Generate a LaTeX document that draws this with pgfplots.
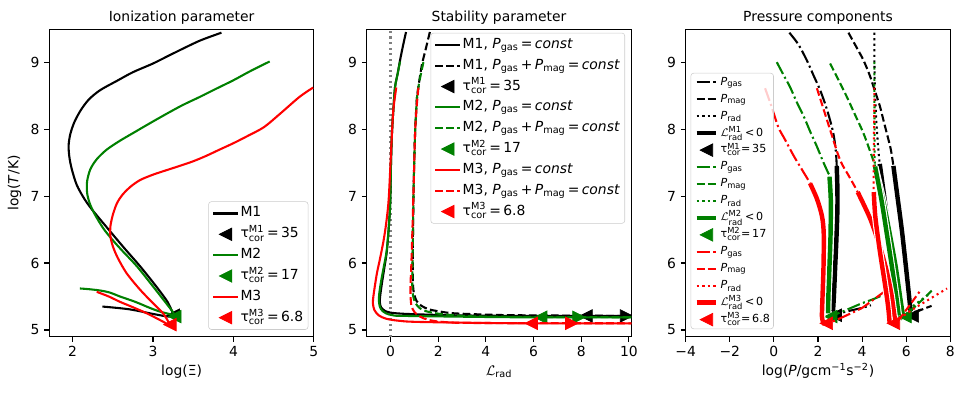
\documentclass[border=0pt]{standalone}
\usepackage{amsmath}
\usepackage{fontspec}
\setmainfont{DejaVu Sans}
\usepackage{pgfplots}
\pgfplotsset{compat=1.18}

\definecolor{mgreen}{HTML}{008000}
\definecolor{mred}{HTML}{FF0000}

\pgfdeclareplotmark{ltri}{%
  \pgfpathmoveto{\pgfqpoint{-\pgfplotmarksize}{0pt}}%
  \pgfpathlineto{\pgfqpoint{\pgfplotmarksize}{-\pgfplotmarksize}}%
  \pgfpathlineto{\pgfqpoint{\pgfplotmarksize}{\pgfplotmarksize}}%
  \pgfpathclose\pgfusepathqfillstroke}
\pgfdeclareplotmark{rtri}{%
  \pgfpathmoveto{\pgfqpoint{\pgfplotmarksize}{0pt}}%
  \pgfpathlineto{\pgfqpoint{-\pgfplotmarksize}{-\pgfplotmarksize}}%
  \pgfpathlineto{\pgfqpoint{-\pgfplotmarksize}{\pgfplotmarksize}}%
  \pgfpathclose\pgfusepathqfillstroke}

\newcommand{\tc}[2]{τ$^{\text{#1}}_{\text{cor}}$\,=\,#2}
\newcommand{\tcs}[2]{τ$^{\text{#1}}_{\text{cor}}$=\,#2}
\newcommand{\Pp}[1]{\textit{P}\textsubscript{#1}}

\tikzset{
  mdash/.style={line width=1.5pt, dash pattern=on 5.55pt off 2.4pt},
  mdashdot/.style={line width=1.5pt, dash pattern=on 9.6pt off 2.4pt on 1.5pt off 2.4pt},
  mdot/.style={line width=1.5pt, dash pattern=on 1.5pt off 2.475pt},
  mthick/.style={line width=3.2pt, solid, preaction={draw=white, line width=4.8pt, solid}},
}

\pgfplotsset{
  panel/.style={
    scale only axis, width=190.5pt, height=221.3pt, anchor=south west,
    ymin=4.9, ymax=9.49, ytick={5,6,7,8,9},
    tick align=outside, tick pos=left, major tick length=3.5pt,
    axis line style={line width=0.8pt},
    every tick/.style={black, line width=0.8pt},
    /pgf/number format/assume math mode=true,
    tick label style={font=\fontsize{10}{12}\selectfont},
    label style={font=\fontsize{10}{12}\selectfont},
    title style={font=\fontsize{10}{12}\selectfont, at={(0.5,1)}, anchor=base, yshift=-0.5pt},
    xlabel style={at={(axis description cs:0.5,-0.125)}, anchor=base},
    clip marker paths=true,
    legend cell align=left,
    legend style={draw=black!20, rounded corners=2pt, fill=white, fill opacity=0.8,
      draw opacity=1, text opacity=1,
      font=\fontsize{10}{12}\selectfont,
      nodes={inner sep=1pt, text height=7.5pt, text depth=2.5pt}, row sep=3pt, inner sep=2.5pt},
    legend image code/.code={\draw[mark repeat=2,mark phase=2,##1] plot coordinates {(0pt,0pt) (9pt,0pt) (18pt,0pt)};},
  },
  tri/.style={only marks, mark=ltri, mark size=4.5pt, mark options={solid, line width=0.5pt, fill opacity=1, draw opacity=1}},
  trir/.style={only marks, mark=rtri, mark size=4.5pt, mark options={solid, line width=0.5pt, fill opacity=1, draw opacity=1}},
  sm/.style={smooth, tension=0.5},
}

\begin{document}
\begin{tikzpicture}
\useasboundingbox (0,0) rectangle (694.8pt,283.68pt);

% ---------------- Panel 1 ----------------
\begin{axis}[panel, at={(35.5pt,41.26pt)},
  xmin=1.71, xmax=5, xtick={2,3,4,5},
  title={Ionization parameter},
  xlabel={log(Ξ)}, ylabel={log(\textit{T}/K)},
  ylabel style={at={(axis description cs:-0.117,0.5)}, anchor=base},
  legend style={at={(1,0)}, anchor=south east, xshift=-4pt, yshift=5pt}]
\addplot[black, line width=1.5pt, sm] coordinates {
(3.85,9.44)(3.60,9.33)(3.42,9.23)(3.20,9.10)(3.00,8.98)(2.75,8.85)(2.55,8.72)(2.34,8.58)
(2.20,8.44)(2.10,8.28)(2.02,8.10)(1.97,7.92)(1.95,7.75)(1.96,7.58)(1.99,7.40)(2.05,7.17)
(2.14,6.97)(2.24,6.80)(2.42,6.54)(2.63,6.24)(2.84,5.95)(3.04,5.65)(3.18,5.42)(3.25,5.24)};
\addlegendentry{M1}
\addplot[black, line width=1.5pt, sm, forget plot] coordinates {
(3.25,5.24)(3.20,5.20)(3.00,5.24)(2.70,5.31)(2.37,5.35)};
\addplot[black, tri] coordinates {(3.25,5.22)};
\addlegendentry{\tc{M1}{35}}
\addplot[mgreen, line width=1.5pt, sm] coordinates {
(4.45,9.01)(4.20,8.86)(4.00,8.73)(3.78,8.60)(3.58,8.48)(3.37,8.36)(3.17,8.23)(2.95,8.08)
(2.75,7.94)(2.58,7.82)(2.42,7.69)(2.30,7.55)(2.22,7.40)(2.18,7.22)(2.18,7.05)(2.21,6.90)
(2.27,6.74)(2.38,6.52)(2.50,6.34)(2.62,6.18)(2.80,5.95)(3.00,5.65)(3.15,5.42)(3.24,5.28)(3.27,5.22)};
\addlegendentry{M2}
\addplot[mgreen, line width=1.5pt, sm, forget plot] coordinates {
(3.27,5.22)(3.10,5.27)(2.96,5.33)(2.78,5.42)(2.59,5.50)(2.46,5.56)(2.34,5.59)(2.20,5.61)(2.09,5.62)};
\addplot[mgreen, tri] coordinates {(3.27,5.20)};
\addlegendentry{\tc{M2}{17}}
\addplot[mred, line width=1.5pt, sm] coordinates {
(4.99,8.62)(4.82,8.48)(4.58,8.23)(4.38,8.03)(4.18,7.90)(4.00,7.79)(3.82,7.69)(3.66,7.60)
(3.50,7.52)(3.33,7.45)(3.15,7.38)(3.00,7.32)(2.84,7.24)(2.72,7.14)(2.62,7.02)(2.55,6.89)
(2.50,6.72)(2.47,6.55)(2.47,6.40)(2.50,6.25)(2.56,6.08)(2.67,5.85)(2.84,5.60)(3.00,5.40)
(3.13,5.24)(3.22,5.06)};
\addlegendentry{M3}
\addplot[mred, line width=1.5pt, sm, forget plot] coordinates {
(3.22,5.06)(3.10,5.14)(2.92,5.25)(2.75,5.34)(2.59,5.42)(2.45,5.50)(2.30,5.57)};
\addplot[mred, tri] coordinates {(3.21,5.08)};
\addlegendentry{\tc{M3}{6.8}}
\end{axis}

% ---------------- Panel 2 ----------------
\begin{axis}[panel, at={(264.02pt,41.26pt)},
  xmin=-1, xmax=10.1, xtick={0,2,4,6,8,10},
  title={Stability parameter},
  xlabel={$\mathcal{L}$\textsubscript{rad}},
  legend style={at={(1,1)}, anchor=north east, xshift=-4.5pt, yshift=-2.5pt}]
\addplot[gray, line width=1.5pt, dash pattern=on 1.5pt off 2.475pt, forget plot] coordinates {(0,4.9)(0,9.49)};
% M1
\addplot[black, line width=1.5pt, sm] coordinates {
(0.65,9.45)(0.52,9.24)(0.40,9.03)(0.30,8.83)(0.19,8.63)(0.12,8.30)(0.06,7.94)(0.02,7.50)
(-0.01,6.94)(-0.06,6.60)(-0.15,6.19)(-0.25,5.95)(-0.36,5.70)(-0.43,5.52)(-0.45,5.42)
(-0.40,5.34)(-0.25,5.29)(-0.01,5.26)(0.68,5.24)(2.63,5.22)(5.40,5.21)(10.2,5.21)};
\addlegendentry{M1, \Pp{gas}\,=\,\textit{const}}
\addplot[black, mdash, sm] coordinates {
(1.65,9.45)(1.48,9.20)(1.31,8.95)(1.17,8.63)(1.10,8.43)(1.03,7.94)(0.98,7.30)(0.96,6.94)
(0.94,6.40)(0.93,5.95)(0.94,5.70)(0.98,5.55)(1.10,5.43)(1.30,5.36)(1.60,5.31)(2.00,5.28)
(2.63,5.25)(4.00,5.23)(5.40,5.22)(10.2,5.21)};
\addlegendentry{M1, \Pp{gas}\,+\,\Pp{mag}\,=\,\textit{const}}
\addplot[black, tri] coordinates {(8.2,5.21)};
\addlegendentry{\tc{M1}{35}}
\addplot[black, trir, forget plot] coordinates {(9.9,5.21)};
% M2
\addplot[mgreen, line width=1.5pt, sm] coordinates {
(0.40,9.01)(0.30,8.83)(0.19,8.63)(0.12,8.30)(0.06,7.94)(0.02,7.50)(-0.01,6.94)(-0.06,6.60)
(-0.16,6.19)(-0.28,5.95)(-0.40,5.72)(-0.48,5.52)(-0.48,5.40)(-0.40,5.31)(-0.20,5.25)
(0.10,5.22)(0.68,5.21)(5.40,5.19)(10.2,5.19)};
\addlegendentry{M2, \Pp{gas}\,=\,\textit{const}}
\addplot[mgreen, mdash, sm] coordinates {
(1.38,9.00)(1.26,8.80)(1.17,8.63)(1.10,8.43)(1.03,7.94)(0.98,7.30)(0.96,6.94)(0.94,6.40)
(0.92,5.95)(0.91,5.70)(0.94,5.52)(1.05,5.40)(1.25,5.32)(1.60,5.27)(2.35,5.23)(4.00,5.20)(10.2,5.19)};
\addlegendentry{M2, \Pp{gas}\,+\,\Pp{mag}\,=\,\textit{const}}
\addplot[mgreen, tri] coordinates {(6.3,5.19)};
\addlegendentry{\tc{M2}{17}}
\addplot[mgreen, trir, forget plot] coordinates {(7.9,5.19)};
% M3
\addplot[mred, line width=1.5pt, sm] coordinates {
(0.24,8.62)(0.12,8.30)(0.06,7.94)(0.00,7.50)(-0.08,6.94)(-0.18,6.60)(-0.29,6.34)(-0.45,6.05)
(-0.57,5.85)(-0.66,5.65)(-0.72,5.50)(-0.74,5.40)(-0.68,5.30)(-0.50,5.22)(-0.20,5.17)
(0.30,5.14)(1.24,5.12)(5.40,5.10)(10.2,5.10)};
\addlegendentry{M3, \Pp{gas}\,=\,\textit{const}}
\addplot[mred, mdash, sm] coordinates {
(1.17,8.62)(1.10,8.35)(1.03,7.94)(0.98,7.30)(0.95,6.90)(0.91,6.40)(0.87,5.95)(0.84,5.70)
(0.84,5.50)(0.88,5.36)(1.00,5.27)(1.24,5.20)(1.60,5.15)(2.20,5.12)(3.50,5.105)(10.2,5.10)};
\addlegendentry{M3, \Pp{gas}\,+\,\Pp{mag}\,=\,\textit{const}}
\addplot[mred, tri] coordinates {(5.9,5.10)};
\addlegendentry{\tc{M3}{6.8}}
\addplot[mred, trir, forget plot] coordinates {(7.6,5.10)};
\end{axis}

% ---------------- Panel 3 ----------------
\begin{axis}[panel, at={(493.7pt,41.26pt)},
  xmin=-4, xmax=8, xtick={-4,-2,0,2,4,6,8}, xticklabels={−4,−2,0,2,4,6,8},
  title={Pressure components},
  xlabel={log(\textit{P}/gcm\textsuperscript{−1}s\textsuperscript{−2})},
  legend style={at={(0,0)}, anchor=south west, xshift=3.5pt, yshift=5.5pt,
    font=\fontsize{8}{10}\selectfont,
    nodes={inner sep=0.8pt, text height=6pt, text depth=2pt}, row sep=2.6pt, inner sep=1.8pt},
  legend image code/.code={\draw[mark repeat=2,mark phase=2,#1] plot coordinates {(0pt,0pt) (7pt,0pt) (14pt,0pt)};}]
% ===== M1 =====
\addplot[black, mdashdot, sm] coordinates {
(0.70,9.44)(1.10,9.27)(1.49,9.03)(1.80,8.80)(2.10,8.58)(2.35,8.35)(2.55,8.13)(2.70,7.93)(2.80,7.70)(2.85,7.45)
(2.88,7.10)(2.88,6.80)(2.84,6.40)(2.78,5.95)(2.72,5.50)(2.68,5.28)
(2.68,5.22)(3.10,5.26)(3.60,5.30)(4.00,5.33)(4.40,5.37)};
\addlegendentry{\Pp{gas}}
\addplot[black, mdash, sm] coordinates {
(3.38,9.44)(3.75,9.22)(4.06,9.03)(4.35,8.80)(4.55,8.60)(4.80,8.35)(4.97,8.13)(5.15,7.90)(5.30,7.70)(5.42,7.45)
(5.60,7.00)(5.80,6.50)(5.97,6.00)(6.10,5.60)(6.20,5.28)
(6.22,5.22)(6.60,5.29)(7.15,5.36)};
\addlegendentry{\Pp{mag}}
\addplot[black, mdot, sm] coordinates {
(4.56,9.44)(4.56,9.00)(4.58,8.60)(4.63,8.20)(4.70,7.85)(4.80,7.48)
(5.00,7.00)(5.20,6.50)(5.42,6.00)(5.62,5.55)(5.82,5.25)
(5.85,5.20)(6.30,5.26)(6.80,5.32)};
\addlegendentry{\Pp{rad}}
\addplot[black, mthick, sm] coordinates {(2.85,7.45)(2.88,7.10)(2.88,6.80)(2.84,6.40)(2.78,5.95)(2.72,5.50)(2.68,5.28)};
\addlegendentry{$\mathcal{L}^{\text{M1}}_{\text{rad}}$\,<\,0}
\addplot[black, mthick, sm, forget plot] coordinates {(5.42,7.45)(5.60,7.00)(5.80,6.50)(5.97,6.00)(6.10,5.60)(6.20,5.28)};
\addplot[black, mthick, sm, forget plot] coordinates {(4.80,7.48)(5.00,7.00)(5.20,6.50)(5.42,6.00)(5.62,5.55)(5.82,5.25)};
\addplot[black, tri] coordinates {(2.78,5.22)(6.28,5.21)};
\addlegendentry{\tcs{M1}{35}}
% ===== M2 =====
\addplot[mgreen, mdashdot, sm] coordinates {
(0.13,9.00)(0.45,8.80)(0.73,8.63)(1.04,8.40)(1.34,8.20)(1.65,7.96)(1.95,7.74)(2.25,7.50)(2.47,7.34)(2.52,7.29)
(2.58,6.94)(2.57,6.44)(2.52,5.95)(2.47,5.50)(2.46,5.25)
(2.48,5.20)(3.00,5.26)(3.50,5.33)(4.00,5.40)(4.50,5.46)(5.00,5.53)(5.40,5.59)(5.75,5.61)};
\addlegendentry{\Pp{gas}}
\addplot[mgreen, mdash, sm] coordinates {
(2.55,8.98)(2.95,8.72)(3.31,8.48)(3.70,8.20)(4.06,7.94)(4.35,7.68)(4.59,7.44)
(4.95,6.94)(5.25,6.44)(5.52,5.95)(5.72,5.50)(5.85,5.22)
(5.88,5.20)(6.50,5.38)(7.20,5.60)};
\addlegendentry{\Pp{mag}}
\addplot[mgreen, mdot, sm] coordinates {
(4.56,9.00)(4.56,8.40)(4.57,7.80)(4.59,7.44)
(4.88,6.94)(5.12,6.44)(5.35,5.95)(5.55,5.50)(5.66,5.22)
(5.68,5.20)(6.40,5.38)(7.10,5.55)};
\addlegendentry{\Pp{rad}}
\addplot[mgreen, mthick, sm] coordinates {(2.52,7.29)(2.58,6.94)(2.57,6.44)(2.52,5.95)(2.47,5.50)(2.46,5.25)};
\addlegendentry{$\mathcal{L}^{\text{M2}}_{\text{rad}}$\,<\,0}
\addplot[mgreen, mthick, sm, forget plot] coordinates {(4.59,7.44)(4.95,6.94)(5.25,6.44)(5.52,5.95)(5.72,5.50)(5.85,5.22)};
\addplot[mgreen, mthick, sm, forget plot] coordinates {(4.59,7.44)(4.88,6.94)(5.12,6.44)(5.35,5.95)(5.55,5.50)(5.66,5.22)};
\addplot[mgreen, tri] coordinates {(2.58,5.20)(5.95,5.20)};
\addlegendentry{\tcs{M2}{17}}
% ===== M3 =====
\addplot[mred, mdashdot, sm] coordinates {
(-0.40,8.61)(-0.10,8.33)(0.20,8.03)(0.51,7.84)(0.90,7.60)(1.30,7.38)(1.64,7.19)
(1.95,6.96)(2.18,6.70)(2.26,6.44)(2.25,5.95)(2.20,5.45)(2.18,5.20)(2.25,5.10)
(2.30,5.08)(2.90,5.16)(3.50,5.25)(4.00,5.33)(4.50,5.45)(5.00,5.57)};
\addlegendentry{\Pp{gas}}
\addplot[mred, mdash, sm] coordinates {
(1.95,8.61)(2.25,8.30)(2.55,7.99)(3.00,7.54)(3.40,7.30)(3.80,7.06)
(4.37,6.66)(4.80,6.25)(5.10,5.90)(5.32,5.55)(5.45,5.25)(5.52,5.10)
(6.00,5.30)(6.60,5.57)};
\addlegendentry{\Pp{mag}}
\addplot[mred, mdot, sm] coordinates {
(4.56,8.62)(4.55,8.20)(4.53,7.70)(4.52,7.30)(4.53,7.06)
(4.60,6.69)(4.80,6.19)(5.03,5.70)(5.18,5.35)(5.25,5.10)
(6.50,5.35)(7.85,5.62)};
\addlegendentry{\Pp{rad}}
\addplot[mred, mthick, sm] coordinates {(1.64,7.19)(1.95,6.96)(2.18,6.70)(2.26,6.44)(2.25,5.95)(2.20,5.45)(2.18,5.20)(2.25,5.10)};
\addlegendentry{$\mathcal{L}^{\text{M3}}_{\text{rad}}$\,<\,0}
\addplot[mred, mthick, sm, forget plot] coordinates {(3.80,7.06)(4.37,6.66)(4.80,6.25)(5.10,5.90)(5.32,5.55)(5.45,5.25)(5.52,5.10)};
\addplot[mred, mthick, sm, forget plot] coordinates {(4.53,7.06)(4.60,6.69)(4.80,6.19)(5.03,5.70)(5.18,5.35)(5.25,5.10)};
\addplot[mred, tri] coordinates {(2.38,5.10)(5.42,5.10)};
\addlegendentry{\tcs{M3}{6.8}}
\end{axis}
\end{tikzpicture}
\end{document}
